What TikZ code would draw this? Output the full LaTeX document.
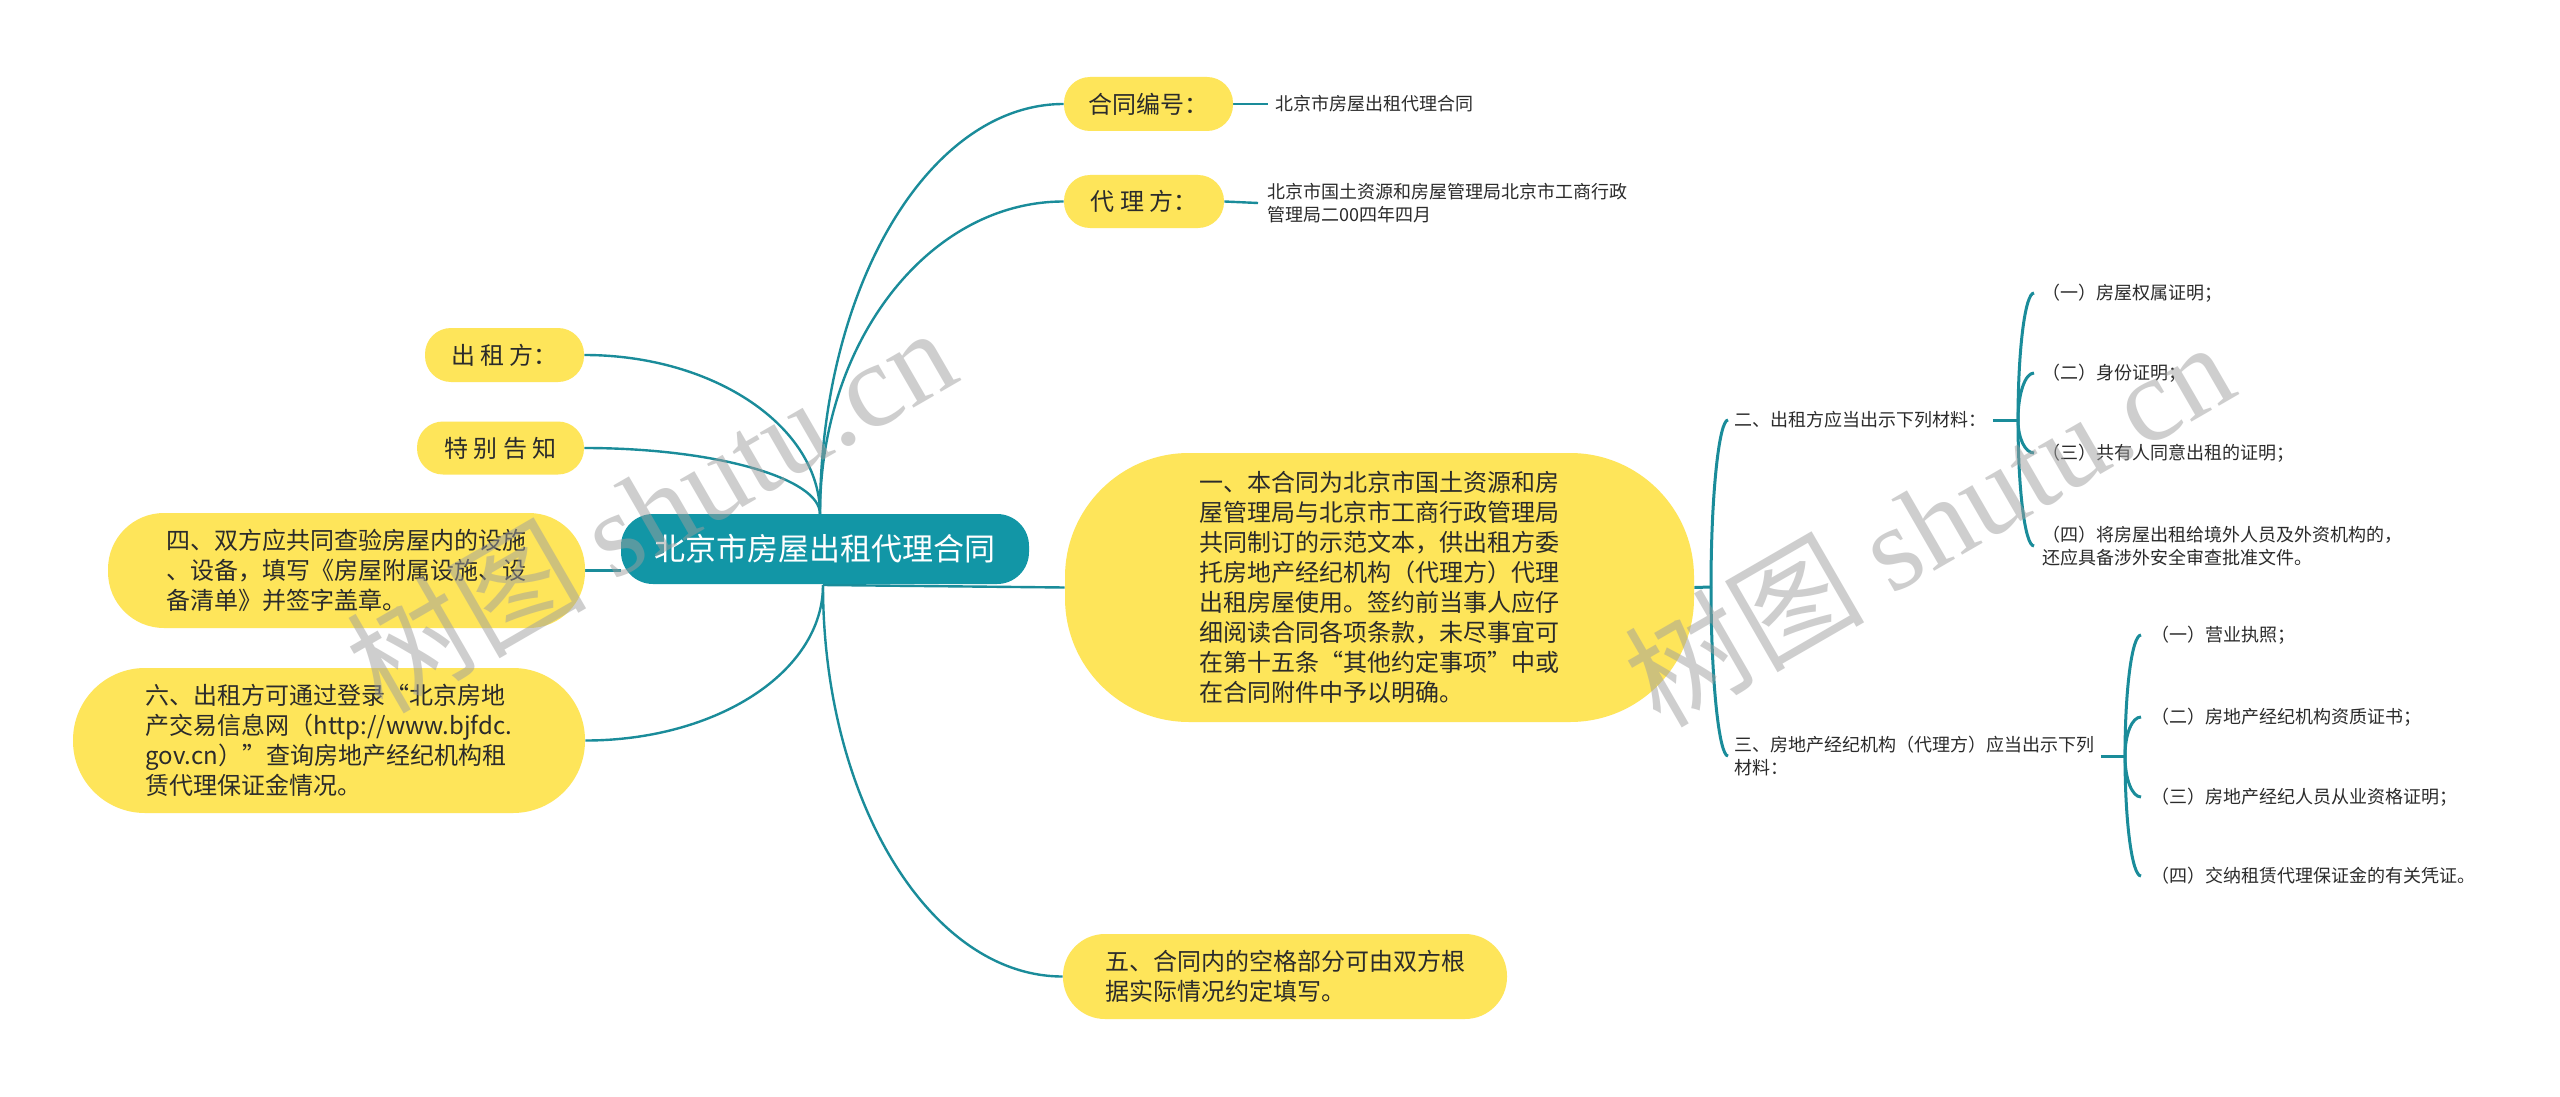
\documentclass[tikz,border=0pt]{standalone}
\usepackage{fontspec}
\setmainfont{Noto Sans CJK SC}
\newfontfamily\wmfont{Liberation Serif}
\usetikzlibrary{backgrounds}
\definecolor{boxyellow}{HTML}{FEE55A}
\definecolor{mainteal}{HTML}{1296A6}
\definecolor{linkteal}{HTML}{1A8C9A}
\definecolor{txt}{HTML}{2B2B2B}
\begin{document}
\begin{tikzpicture}[x=0.5pt,y=-0.5pt,
  link/.style={draw=linkteal, line width=1.2pt},
  brk/.style={draw=linkteal, line width=1.5pt},
  ybox/.style={fill=boxyellow, draw=none, text=txt, align=left, inner sep=0pt},
  tbig/.style={font=\fontsize{12}{15}\selectfont},
  tsmall/.style={font=\fontsize{9}{11.5}\selectfont, text=txt, align=left, inner ysep=0pt, anchor=west},
  wm/.style={font=\fontsize{60}{60}\selectfont, text=black!38, opacity=0.5, rotate=30, inner sep=0pt}
]
\useasboundingbox (0,0) rectangle (2560,1097);

% central node
\node[fill=mainteal, text=white, rounded corners=16pt, minimum width=204pt, minimum height=35pt, inner sep=0pt,
      font=\fontsize{15.5}{18}\selectfont] (c) at (825,549) {北京市房屋出租代理合同};
\coordinate (ct) at (820,514);
\coordinate (cb) at (823,585);

% right upper
\node[ybox,tbig,minimum width=84.5pt,minimum height=27pt,rounded corners=13pt] (h1) at (1148.5,104) {合同编号：};
\node[ybox,tbig,minimum width=80pt,minimum height=26.5pt,rounded corners=13pt] (h2) at (1144,201.5) {代 理 方：};
\node[tsmall, inner xsep=3.5pt] (t1) at (1268,104) {北京市房屋出租代理合同};
\node[tsmall, inner xsep=4.5pt] (t2) at (1258,203) {北京市国土资源和房屋管理局北京市工商行政\\管理局二00四年四月};

% left
\node[ybox,tbig,minimum width=79.5pt,minimum height=27pt,rounded corners=13pt] (L1) at (504.5,355) {出 租 方：};
\node[ybox,tbig,minimum width=83.5pt,minimum height=26.5pt,rounded corners=13pt] (L2) at (500.5,448) {特 别 告 知};
\node[ybox,tbig,minimum width=238.5pt,minimum height=57.5pt,rounded corners=28pt] (L3) at (346.5,570.5)
  {四、双方应共同查验房屋内的设施\\、设备，填写《房屋附属设施、设\\备清单》并签字盖章。};
\node[ybox,tbig,minimum width=256pt,minimum height=72.5pt,rounded corners=36pt] (L4) at (329,740.5)
  {六、出租方可通过登录“北京房地\\产交易信息网（http://www.bjfdc.\\gov.cn）”查询房地产经纪机构租\\赁代理保证金情况。};

% right main
\node[ybox,tbig,minimum width=314.5pt,minimum height=134.5pt,rounded corners=62pt] (n1) at (1379.5,587.5)
  {一、本合同为北京市国土资源和房\\屋管理局与北京市工商行政管理局\\共同制订的示范文本，供出租方委\\托房地产经纪机构（代理方）代理\\出租房屋使用。签约前当事人应仔\\细阅读合同各项条款，未尽事宜可\\在第十五条“其他约定事项”中或\\在合同附件中予以明确。};
\node[ybox,tbig,minimum width=222pt,minimum height=42.5pt,rounded corners=21pt] (n5) at (1285,976.5)
  {五、合同内的空格部分可由双方根\\据实际情况约定填写。};

% sub-branches
\coordinate (j1) at (1711,587);
\node[tsmall, inner xsep=3pt] (b2) at (1728,420) {二、出租方应当出示下列材料：};
\node[tsmall, inner xsep=3pt] (b3) at (1728,756) {三、房地产经纪机构（代理方）应当出示下列\\材料：};
\coordinate (j2) at (2018,420);
\coordinate (j3) at (2125,756);
\node[tsmall, inner xsep=4pt] (c21) at (2034,293) {（一）房屋权属证明；};
\node[tsmall, inner xsep=4pt] (c22) at (2034,373) {（二）身份证明；};
\node[tsmall, inner xsep=4pt] (c23) at (2034,453) {（三）共有人同意出租的证明；};
\node[tsmall, inner xsep=4pt] (c24) at (2034,546) {（四）将房屋出租给境外人员及外资机构的，\\还应具备涉外安全审查批准文件。};
\node[tsmall, inner xsep=5pt] (c31) at (2141,635) {（一）营业执照；};
\node[tsmall, inner xsep=5pt] (c32) at (2141,717) {（二）房地产经纪机构资质证书；};
\node[tsmall, inner xsep=5pt] (c33) at (2141,797) {（三）房地产经纪人员从业资格证明；};
\node[tsmall, inner xsep=5pt] (c34) at (2141,876) {（四）交纳租赁代理保证金的有关凭证。};

\begin{scope}[on background layer]
  \fill[white] (0,0) rectangle (2560,1097);
  \draw[link] (ct) .. controls +(0,-226) and +(-135,0) .. (h1.west);
  \draw[link] (ct) .. controls +(0,-172) and +(-135,0) .. (h2.west);
  \draw[link] (h1.east) -- (t1.west);
  \draw[link] (h2.east) -- (t2.west);
  \draw[link] (L1.east) .. controls +(130,0) and +(0,-87) .. (ct);
  \draw[link] (L2.east) .. controls +(130,0) and +(0,-36) .. (ct);
  \draw[link] (L3.east) -- (L3.east -| c.west);
  \draw[link] (L4.east) .. controls +(131,0) and +(0,87) .. (cb);
  \draw[link] (cb) .. controls +(0,216) and +(-132,0) .. (n5.west);
  \draw[link] (cb) -- (n1.west);
  \draw[brk] (n1.east) -- (j1);
  \draw[brk] (j1) .. controls +(0,-92) and +(-9,0) .. (b2.west);
  \draw[brk] (j1) .. controls +(0,93) and +(-9,0) .. (b3.west);
  \draw[brk] (b2.east) -- (j2);
  \draw[brk] (j2) .. controls +(0,-70) and +(-9,0) .. (c21.west);
  \draw[brk] (j2) .. controls +(0,-26) and +(-9,0) .. (c22.west);
  \draw[brk] (j2) .. controls +(0,18) and +(-9,0) .. (c23.west);
  \draw[brk] (j2) .. controls +(0,70) and +(-9,0) .. (c24.west);
  \draw[brk] (b3.east) -- (j3);
  \draw[brk] (j3) .. controls +(0,-67) and +(-9,0) .. (c31.west);
  \draw[brk] (j3) .. controls +(0,-22) and +(-9,0) .. (c32.west);
  \draw[brk] (j3) .. controls +(0,23) and +(-9,0) .. (c33.west);
  \draw[brk] (j3) .. controls +(0,66) and +(-9,0) .. (c34.west);
\end{scope}

% watermarks
\node[wm] (wm1) at (650,508) {树图\ {\wmfont shutu.cn}};
\node[wm] (wm2) at (1928,522) {树图\ {\wmfont shutu.cn}};
\end{tikzpicture}
\end{document}
